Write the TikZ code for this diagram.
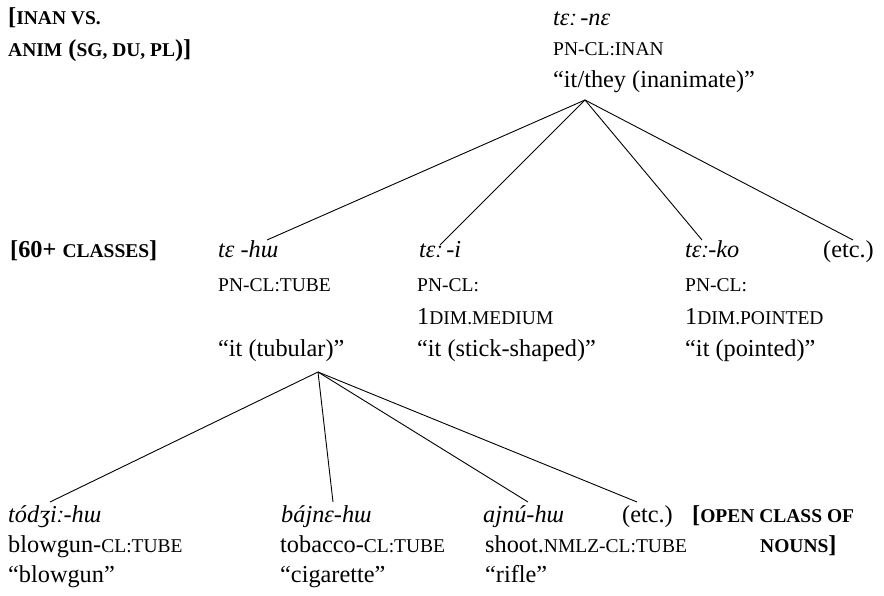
\documentclass[tikz,border=0pt]{standalone}
\usepackage{fontspec}
\setmainfont{Liberation Serif}
\newcommand\smc[1]{{\fontsize{19.5}{32}\selectfont\MakeUppercase{#1}}}
\begin{document}
\begin{tikzpicture}[x=1pt,y=-1pt,
  txt/.style={anchor=base west,inner sep=0pt,font=\fontsize{24.3}{32}\selectfont},
  ipa/.style={txt,font=\fontsize{24.3}{32}\selectfont\itshape},
  hdr/.style={txt,font=\fontsize{24.3}{32}\selectfont\bfseries},
  branch/.style={line width=0.9pt}]
\useasboundingbox (0,0) rectangle (884,596);
% headers
\node[hdr] (hA) at (8,25) {[\smc{inan vs.}};
\node[hdr] (hB) at (8,57) {\smc{anim} (\smc{sg, du, pl})]};
\node[hdr] (hC) at (10,258) {[60+ \smc{classes}]};
\node[hdr] (hD) at (692,522) {[\smc{open class of}};
\node[hdr] (hE) at (760,552) {\smc{nouns}]};
% top
\node[ipa] (t1) at (553,26) {tɛː\,-nɛ};
\node[txt] (t2) at (553,56) {\smc{pn-cl:inan}};
\node[txt] (t3) at (553,88) {“it/they (inanimate)”};
% middle
\node[ipa] (a1) at (218,258) {tɛ -hɯ};
\node[txt] (a2) at (218,291) {\smc{pn-cl:tube}};
\node[txt] (a3) at (218,356) {“it (tubular)”};
\node[ipa] (b1) at (419,258) {tɛː\,-i};
\node[txt] (b2) at (417,291) {\smc{pn-cl:}};
\node[txt] (b3) at (417,324) {1\smc{dim.medium}};
\node[txt] (b4) at (417,356) {“it (stick-shaped)”};
\node[ipa] (c1) at (685,258) {tɛː-ko};
\node[txt] (c2) at (685,291) {\smc{pn-cl:}};
\node[txt] (c3) at (685,324) {1\smc{dim.pointed}};
\node[txt] (c4) at (685,356) {“it (pointed)”};
\node[txt] (d1) at (823,258) {(etc.)};
% bottom
\node[ipa] (e1) at (8,522) {tódʒiː-hɯ};
\node[txt] (e2) at (8,552) {blowgun-\smc{cl:tube}};
\node[txt] (e3) at (8,582) {“blowgun”};
\node[ipa] (f1) at (281,522) {bájnɛ-hɯ};
\node[txt] (f2) at (280,552) {tobacco-\smc{cl:tube}};
\node[txt] (f3) at (280,582) {“cigarette”};
\node[ipa] (g1) at (483,522) {ajnú-hɯ};
\node[txt] (g2) at (485,552) {shoot.\smc{nmlz-cl:tube}};
\node[txt] (g3) at (485,582) {“rifle”};
\node[txt] (h1) at (622,522) {(etc.)};
% connector points
\coordinate (root) at (585,100);
\coordinate (pa) at (267,240);
\coordinate (pb) at (440,245);
\coordinate (pc) at (702,240);
\coordinate (pd) at (853,240);
\coordinate (sub) at (318,372);
\coordinate (pe) at (50,502);
\coordinate (pf) at (333,502);
\coordinate (pg) at (528,502);
\coordinate (ph) at (637,502);
\foreach \p in {pa,pb,pc,pd} \draw[branch] (root) -- (\p);
\foreach \p in {pe,pf,pg,ph} \draw[branch] (sub) -- (\p);
\end{tikzpicture}
\end{document}
